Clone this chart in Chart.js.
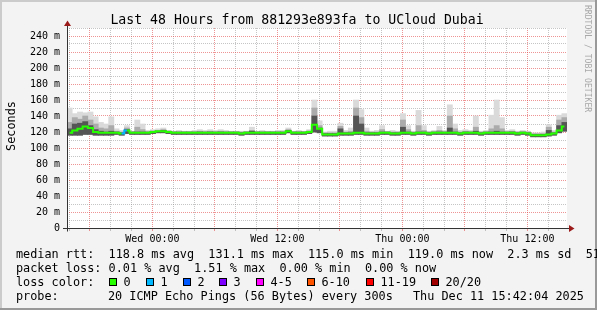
<!DOCTYPE html>
<html>
<head>
<meta charset="utf-8">
<script src="https://cdn.jsdelivr.net/npm/chart.js@4.4.1/dist/chart.umd.min.js"></script>
<style>
  html, body { margin: 0; padding: 0; background: #f3f3f3; }
</style>
</head>
<body>
<canvas id="smokeChart" width="597" height="310"></canvas>
<script>
// Samples every 30 min, hours relative to Wed 00:00
const sampleStart = -7.95;
const sampleStep = 0.5;

// median rtt (ms) per sample
const median = [
  119, 122, 124, 127, 125, 120, 119, 119, 119, 119, 118, 122,
  119, 119, 119, 119, 120, 121, 121, 120, 119, 119, 119, 119,
  119, 119, 119, 119, 119, 119, 119, 119, 119, 118, 119, 119,
  119, 119, 119, 119, 119, 119, 121, 119, 119, 119, 120, 129,
  124, 117, 117, 117, 118, 118, 118, 119, 119, 118, 118, 118,
  119, 119, 118, 118, 119, 119, 118, 119, 119, 118, 119, 119,
  119, 119, 119, 118, 119, 119, 119, 118, 119, 119, 119, 119,
  119, 119, 118, 119, 118, 116, 116, 116, 117, 118, 122, 127
];
// smoke: lowest ping, and upper edges of the dark / mid / light bands
const smokeLow = [
  116, 116, 116, 117, 117, 116, 116, 116, 116, 117, 116, 118,
  117, 117, 117, 117, 118, 119, 119, 118, 117, 117, 117, 117,
  117, 117, 117, 117, 117, 117, 117, 117, 117, 116, 117, 117,
  117, 117, 117, 117, 117, 117, 119, 117, 117, 117, 118, 120,
  119, 115, 115, 115, 116, 116, 116, 117, 117, 116, 116, 116,
  117, 117, 116, 116, 117, 117, 116, 117, 117, 116, 117, 117,
  117, 117, 117, 116, 117, 117, 117, 116, 117, 117, 117, 117,
  117, 117, 116, 117, 116, 114, 114, 114, 115, 116, 119, 121
];
const smokeDark = [
  124, 130, 131, 133, 128, 123, 121, 120, 121, 120, 119, 123,
  120, 120, 120, 120, 121, 121, 122, 121, 120, 120, 120, 120,
  120, 120, 120, 120, 120, 120, 120, 120, 120, 119, 120, 121,
  120, 120, 120, 120, 120, 120, 122, 120, 120, 120, 121, 140,
  125, 118, 118, 118, 124, 119, 119, 140, 130, 119, 119, 119,
  120, 120, 119, 119, 126, 120, 119, 120, 120, 119, 120, 120,
  120, 125, 120, 119, 120, 120, 121, 119, 120, 120, 121, 120,
  120, 120, 119, 120, 119, 117, 117, 117, 122, 119, 128, 132
];
const smokeMid = [
  132, 138, 136, 140, 135, 130, 125, 124, 128, 121, 120, 125,
  120, 126, 123, 120, 121, 122, 123, 121, 120, 120, 120, 120,
  120, 121, 120, 121, 120, 121, 120, 120, 120, 120, 120, 122,
  120, 120, 120, 120, 120, 120, 123, 120, 120, 120, 121, 150,
  128, 119, 119, 119, 127, 120, 121, 150, 138, 121, 120, 120,
  123, 120, 120, 120, 135, 123, 120, 128, 122, 120, 120, 122,
  120, 140, 124, 120, 121, 120, 126, 120, 120, 124, 128, 124,
  120, 121, 120, 120, 120, 118, 118, 118, 126, 120, 135, 138
];
const smokeHigh = [
  150, 143, 145, 144, 145, 139, 132, 130, 139, 124, 122, 128,
  121, 135, 130, 122, 123, 124, 125, 122, 121, 122, 121, 121,
  122, 123, 122, 123, 122, 123, 122, 121, 121, 121, 121, 126,
  121, 122, 121, 121, 122, 122, 125, 121, 122, 121, 123, 160,
  134, 120, 121, 121, 131, 122, 125, 160, 148, 125, 121, 122,
  128, 121, 122, 121, 143, 128, 121, 147, 128, 121, 122, 127,
  122, 154, 130, 122, 123, 122, 140, 121, 122, 141, 160, 138,
  122, 123, 121, 122, 121, 119, 119, 120, 129, 122, 141, 143
];
// loss band index per sample (0 = no loss, 1 = one lost ping)
const lossBand = [
  0, 0, 0, 0, 0, 0, 0, 0, 0, 0, 1, 0,
  0, 0, 0, 0, 0, 0, 0, 0, 0, 0, 0, 0,
  0, 0, 0, 0, 0, 0, 0, 0, 0, 0, 0, 0,
  0, 0, 0, 0, 0, 0, 0, 0, 0, 0, 0, 0,
  0, 0, 0, 0, 0, 0, 0, 0, 0, 0, 0, 0,
  0, 0, 0, 0, 0, 0, 0, 0, 0, 0, 0, 0,
  0, 0, 0, 0, 0, 0, 0, 0, 0, 0, 0, 0,
  0, 0, 0, 0, 0, 0, 0, 0, 0, 0, 0, 0
];

const lossLabels = ['0', '1', '2', '3', '4-5', '6-10', '11-19', '20/20'];
const lossColors = ['#26ff00', '#00b8ff', '#0059ff', '#7e00ff', '#ff00ff', '#ff5500', '#ff0000', '#a10000'];

const xTickHours = [0, 12, 24, 36];
const xTickLabels = ['Wed 00:00', 'Wed 12:00', 'Thu 00:00', 'Thu 12:00'];

const chartTitle = 'Last 48 Hours from 881293e893fa to UCloud Dubai';
const yTitle = 'Seconds';
const rttStats = ['118.8 ms avg', '131.1 ms max', '115.0 ms min', '119.0 ms now', '2.3 ms sd', '51.7 am/s'];
const lossStats = ['0.01 % avg', '1.51 % max', '0.00 % min', '0.00 % now'];
const probeText = '20 ICMP Echo Pings (56 Bytes) every 300s';
const stampText = 'Thu Dec 11 15:42:04 2025';

const sampleHours = median.map((_, i) => sampleStart + i * sampleStep);
const bandData = (top) => sampleHours.map((h, i) => ({ x: h, y: [smokeLow[i], top[i]] }));

const MONO = '"DejaVu Sans Mono", monospace';
const majorGrid = 'rgba(224, 60, 60, 0.55)';
const minorGrid = 'rgba(140, 140, 140, 0.5)';

// background, frame, axes with arrows, titles and the legend block
const rrdFrame = {
  id: 'rrdFrame',
  beforeDraw(chart) {
    const c = chart.ctx, a = chart.chartArea;
    c.save();
    c.fillStyle = '#f3f3f3';
    c.fillRect(0, 0, 597, 310);
    c.fillStyle = '#cbcbcb';
    c.fillRect(0, 0, 597, 2);
    c.fillRect(0, 0, 2, 310);
    c.fillStyle = '#999999';
    c.fillRect(0, 308, 597, 2);
    c.fillRect(595, 0, 2, 310);
    c.fillStyle = '#ffffff';
    c.fillRect(a.left, a.top, a.right - a.left, a.bottom - a.top);
    c.restore();
  },
  afterDraw(chart) {
    const c = chart.ctx, a = chart.chartArea;
    const ax = a.left + 0.5, ay = a.bottom + 0.5;
    c.save();
    c.strokeStyle = '#333';
    c.lineWidth = 1;
    c.beginPath();
    c.moveTo(ax, ay + 3); c.lineTo(ax, a.top - 4);
    c.moveTo(a.left - 4, ay); c.lineTo(a.right + 2, ay);
    c.stroke();
    c.fillStyle = '#9b1b1b';
    c.beginPath();
    c.moveTo(ax, a.top - 7.5); c.lineTo(ax - 3.5, a.top - 2); c.lineTo(ax + 3.5, a.top - 2);
    c.closePath(); c.fill();
    c.beginPath();
    c.moveTo(a.right + 7.5, ay); c.lineTo(a.right + 2, ay - 3.5); c.lineTo(a.right + 2, ay + 3.5);
    c.closePath(); c.fill();

    c.fillStyle = '#000';
    c.textBaseline = 'alphabetic';
    c.textAlign = 'center';
    c.font = '13.2px ' + MONO;
    c.fillText(chartTitle, 297, 23.5);

    c.font = '11.83px ' + MONO;
    c.save();
    c.translate(15, 126);
    c.rotate(-Math.PI / 2);
    c.fillText(yTitle, 0, 0);
    c.restore();

    c.save();
    c.fillStyle = '#a8a8a8';
    c.font = '8.1px ' + MONO;
    c.textAlign = 'left';
    c.translate(585, 5);
    c.rotate(Math.PI / 2);
    c.fillText('RRDTOOL / TOBI OETIKER', 0, 0);
    c.restore();

    c.textAlign = 'left';
    c.fillText('median rtt:  ' + rttStats.join('  '), 16, 258.3);
    c.fillText('packet loss: ' + lossStats.join('  '), 16, 272.3);
    c.fillText('loss color:', 16, 286.3);
    const boxX = [109, 146, 183, 219, 256, 307, 366, 431];
    lossLabels.forEach((lab, i) => {
      c.fillStyle = lossColors[i];
      c.fillRect(boxX[i], 278, 8, 8);
      c.strokeStyle = '#000';
      c.strokeRect(boxX[i] + 0.5, 278.5, 7, 7);
      c.fillStyle = '#000';
      c.fillText(lab, boxX[i] + 14.5, 286.3);
    });
    c.fillText('probe:', 16, 300.3);
    c.fillText(probeText, 108, 300.3);
    c.fillText(stampText, 413, 300.3);
    c.restore();
  }
};

const ctx = document.getElementById('smokeChart').getContext('2d');
const smokeChart = new Chart(ctx, {
  type: 'bar',
  data: {
    datasets: [
      {
        type: 'line',
        label: 'median rtt',
        data: sampleHours.map((h, i) => ({ x: h, y: median[i] })),
        borderColor: lossColors[0],
        borderWidth: 2,
        stepped: 'middle',
        pointRadius: 0,
        segment: {
          borderColor: (s) => lossColors[lossBand[s.p0DataIndex]]
        },
        order: 0
      },
      { label: 'smoke dark', data: bandData(smokeDark), backgroundColor: '#555555', grouped: false, barPercentage: 1, categoryPercentage: 1, order: 1 },
      { label: 'smoke mid', data: bandData(smokeMid), backgroundColor: '#ababab', grouped: false, barPercentage: 1, categoryPercentage: 1, order: 2 },
      { label: 'smoke light', data: bandData(smokeHigh), backgroundColor: '#dadada', grouped: false, barPercentage: 1, categoryPercentage: 1, order: 3 }
    ]
  },
  options: {
    responsive: false,
    animation: false,
    layout: { padding: { top: 28, right: 30, bottom: 0, left: 0 } },
    plugins: { legend: { display: false }, tooltip: { enabled: false } },
    scales: {
      x: {
        type: 'linear',
        min: -8.2,
        max: 39.8,
        offset: false,
        afterBuildTicks: (scale) => {
          const t = [];
          for (let h = -8; h <= 38; h += 2) t.push({ value: h });
          scale.ticks = t;
        },
        afterFit: (scale) => { scale.height = 82; },
        grid: {
          offset: false,
          drawTicks: true,
          tickLength: 3,
          color: (c) => (c.tick && c.tick.value % 6 === 0 ? majorGrid : minorGrid),
          tickColor: (c) => (c.tick && c.tick.value % 6 === 0 ? majorGrid : minorGrid)
        },
        border: { display: false, dash: [1, 1] },
        ticks: {
          autoSkip: false,
          maxRotation: 0,
          padding: 2,
          color: '#000',
          font: { family: MONO, size: 10 },
          callback: (v) => {
            const k = xTickHours.indexOf(v);
            return k >= 0 ? xTickLabels[k] : '';
          }
        }
      },
      y: {
        min: 0,
        max: 250,
        afterFit: (scale) => { scale.width = 67; },
        grid: {
          drawTicks: false,
          color: (c) => (c.tick && c.tick.value % 20 === 0 ? majorGrid : minorGrid)
        },
        border: { display: false, dash: [1, 1] },
        ticks: {
          stepSize: 10,
          autoSkip: false,
          padding: 7,
          color: '#000',
          font: { family: MONO, size: 10 },
          callback: (v) => (v % 20 === 0 ? (v === 0 ? '0' : v + ' m') : '')
        }
      }
    }
  },
  plugins: [rrdFrame]
});
</script>
</body>
</html>
